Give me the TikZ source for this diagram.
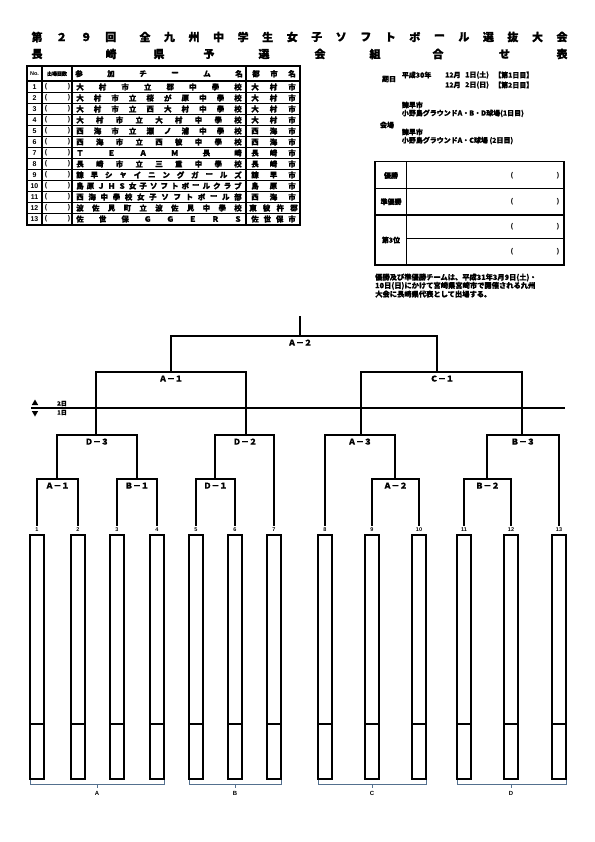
\documentclass[tikz,border=0pt]{standalone}
\usepackage{fontspec}
\setmainfont{Liberation Sans}
\newfontfamily\jp{Noto Sans CJK JP}[FakeBold=0.8]
\newfontfamily\jpx{Noto Sans CJK JP}[FakeBold=1.2]
\usetikzlibrary{calc}
\newcommand\spreadrow[5]{%
  \gdef\tmpn{0}%
  \foreach \c in {#5}{\xdef\tmpn{\the\numexpr\tmpn+1\relax}}%
  \foreach \c [count=\i from 0] in {#5}{%
    \node[tt] (#1-\i) at ({#3+(#4-#3)*\i/(\tmpn-1)},#2) {\c};}}
\newcommand\mt[6]{%
  \coordinate (#1-l) at (#2,#4); \coordinate (#1-r) at (#3,#4);
  \draw[br] (#1-l) -- (#1-r);
  \node[rl] (#1-t) at (#5,#4+6.6) {#6};}
\definecolor{brc}{RGB}{84,112,142}
\begin{document}
\begin{tikzpicture}[x=1bp,y=-1bp,
  br/.style={line width=2bp, line cap=rect},
  rl/.style={font=\jp\bfseries\fontsize{8}{8}\selectfont, inner sep=0pt},
  ttl/.style={font=\jpx\bfseries\fontsize{11}{11}\selectfont, inner sep=0pt},
  tt/.style={font=\jpx\bfseries\fontsize{7.5}{7.5}\selectfont, inner sep=0pt},
  it/.style={font=\jp\bfseries\fontsize{7}{7}\selectfont, inner sep=0pt},
  nt/.style={font=\jp\bfseries\fontsize{7.3}{7.3}\selectfont, inner sep=0pt, anchor=west},
  num/.style={font=\bfseries\fontsize{7}{7}\selectfont, inner sep=0pt},
  tnum/.style={font=\bfseries\fontsize{5.5}{5.5}\selectfont, inner sep=0pt},
  tk/.style={line width=2bp},
  tn/.style={line width=1bp},
  rb/.style={line width=1.5bp},
  bx/.style={draw, line width=2bp, minimum width=14bp, minimum height=244bp, inner sep=0pt},
  brace/.style={draw=brc, line width=1bp},
  day/.style={line width=1.6bp}
]
\useasboundingbox (0,0) rectangle (595,842);
\fill[white] (0,0) rectangle (595,842);

% ---------- title ----------
\foreach \c/\x [count=\i] in {第/37,２/61.6,９/86.2,回/110.8,全/145,九/169.5,州/194.1,中/218.6,学/243.1,生/267.7,女/292.2,子/316.7,ソ/341.2,フ/365.8,ト/390.3,ボ/414.8,ー/439.4,ル/463.9,選/488.4,抜/512.9,大/537.5,会/562}
  {\node[ttl] (ta-\i) at (\x,37) {\c};}
\foreach \c/\x [count=\i] in {長/37,崎/111,県/159,予/209,選/264,会/320,組/375,合/438,せ/504.5,表/562}
  {\node[ttl] (tb-\i) at (\x,54) {\c};}

% ---------- entry table ----------
\draw[tk] (27,66) rectangle (300,224.5);
\draw[tk] (27,81) -- (300,81);
\foreach \k in {1,...,12}{\draw[tn] (27,81.5+11*\k) -- (300,81.5+11*\k);}
\foreach \x in {42,72,246}{\draw[tk] (\x,66) -- (\x,224.5);}
\node[font=\bfseries\fontsize{5.5}{5.5}\selectfont, inner sep=0pt] (hno) at (34.5,73.7) {No.};
\node[font=\jp\bfseries\fontsize{5}{5}\selectfont, inner sep=0pt] (hcnt) at (57,73.7) {出場回数};
\spreadrow{hn}{73.7}{79}{239}{参,加,チ,ー,ム,名}
\spreadrow{hc}{73.7}{256}{292}{都,市,名}
\foreach \k in {1,...,13}{
  \node[num] (no-\k) at (34.5,{81.5+11*\k-5.5}) {\k};
  \node[num] (lp-\k) at (46,{81.5+11*\k-5.5}) {(};
  \node[num] (rp-\k) at (69,{81.5+11*\k-5.5}) {)};
}
\spreadrow{r1}{87}{80}{238}{大,村,市,立,郡,中,學,校}
\spreadrow{r2}{98}{80}{238}{大,村,市,立,桜,が,原,中,學,校}
\spreadrow{r3}{109}{80}{238}{大,村,市,立,西,大,村,中,學,校}
\spreadrow{r4}{120}{80}{238}{大,村,市,立,大,村,中,學,校}
\spreadrow{r5}{131}{80}{238}{西,海,市,立,瀬,ノ,浦,中,學,校}
\spreadrow{r6}{142}{80}{238}{西,海,市,立,西,彼,中,學,校}
\spreadrow{r7}{153}{80}{238}{Ｔ,Ｅ,Ａ,Ｍ,長,崎}
\spreadrow{r8}{164}{80}{238}{長,崎,市,立,三,重,中,學,校}
\spreadrow{r9}{175}{80}{238}{諫,早,シ,ャ,イ,ニ,ン,グ,ガ,ー,ル,ズ}
\spreadrow{r10}{186}{80}{238}{島,原,Ｊ,Ｈ,Ｓ,女,子,ソ,フ,ト,ボ,ー,ル,ク,ラ,ブ}
\spreadrow{r11}{197}{80}{238}{西,海,中,學,校,女,子,ソ,フ,ト,ボ,ー,ル,部}
\spreadrow{r12}{208}{80}{238}{波,佐,見,町,立,波,佐,見,中,學,校}
\spreadrow{r13}{219}{80}{238}{佐,世,保,Ｇ,Ｇ,Ｅ,Ｒ,Ｓ}
\spreadrow{c1}{87}{255}{292}{大,村,市}
\spreadrow{c2}{98}{255}{292}{大,村,市}
\spreadrow{c3}{109}{255}{292}{大,村,市}
\spreadrow{c4}{120}{255}{292}{大,村,市}
\spreadrow{c5}{131}{255}{292}{西,海,市}
\spreadrow{c6}{142}{255}{292}{西,海,市}
\spreadrow{c7}{153}{255}{292}{長,崎,市}
\spreadrow{c8}{164}{255}{292}{長,崎,市}
\spreadrow{c9}{175}{255}{292}{諫,早,市}
\spreadrow{c10}{186}{255}{292}{島,原,市}
\spreadrow{c11}{197}{255}{292}{西,海,市}
\spreadrow{c12}{208}{253}{294}{東,彼,杵,郡}
\spreadrow{c13}{219}{255}{292}{佐,世,保,市}

% ---------- date / venue ----------
\node[it] (kj) at (389,79) {期日};
\node[it,anchor=west] (d1a) at (401.7,75) {平成30年};
\node[it,anchor=west] (d1b) at (445,75) {12月};
\node[it,anchor=west] (d1c) at (465,75) {1日(土)};
\node[it,anchor=west] (d1d) at (494,75) {【第1日目】};
\node[it,anchor=west] (d2b) at (445,85) {12月};
\node[it,anchor=west] (d2c) at (465,85) {2日(日)};
\node[it,anchor=west] (d2d) at (494,85) {【第2日目】};
\node[it] (kj2) at (387,125) {会場};
\node[it,anchor=west] (v1a) at (401.7,105) {諫早市};
\node[it,anchor=west] (v1b) at (401.7,113.3) {小野島グラウンドA・B・D球場(1日目)};
\node[it,anchor=west] (v2a) at (401.7,132) {諫早市};
\node[it,anchor=west] (v2b) at (401.7,140.5) {小野島グラウンドA・C球場 (2日目)};

% ---------- results box ----------
\draw[rb] (375,161.7) rectangle (564,265);
\draw[rb] (406.7,161.7) -- (406.7,265);
\draw[rb] (375,188.3) -- (564,188.3);
\draw[rb] (375,215) -- (564,215);
\draw[rb] (406.7,238.3) -- (564,238.3);
\node[it] (w1) at (391,175.5) {優勝};
\node[it] (w2) at (391,201.7) {準優勝};
\node[it] (w3) at (391,240) {第3位};
\foreach \y [count=\i] in {175.5,201.7,226.7,251.5}{
  \node[num] (ol-\i) at (512,\y) {(};
  \node[num] (or-\i) at (558,\y) {)};
}
\node[nt] (n1) at (375,277.5) {優勝及び準優勝チームは、平成31年3月9日(土)・};
\node[nt] (n2) at (375,285.8) {10日(日)にかけて宮崎県宮崎市で開催される九州};
\node[nt] (n3) at (375,294.1) {大会に長崎県代表として出場する。};

% ---------- day line ----------
\coordinate (dl) at (31,408); \coordinate (dr) at (565,408);
\draw[day] (dl) -- (dr);
\fill (35,399.5) -- (31.8,405) -- (38.2,405) -- cycle;
\fill (35,416.5) -- (31.8,411) -- (38.2,411) -- cycle;
\node[font=\jp\bfseries\fontsize{6}{6}\selectfont, inner sep=0pt] (d2lab) at (62,403.5) {2日};
\node[font=\jp\bfseries\fontsize{6}{6}\selectfont, inner sep=0pt] (d1lab) at (62,412.5) {1日};

% ---------- teams ----------
\foreach \x [count=\i] in {37,78,117,157,196,235,274,325,372,419,464,511,559}{
  \coordinate (T\i) at (\x,525);
  \node[tnum] (tn-\i) at (\x,529.5) {\i};
  \node[bx] (B\i) at (\x,657) {};
  \draw[line width=2bp] (\x-7,724) -- (\x+7,724);
}

% ---------- bracket ----------
% round 1
\mt{mA1}{37}{78}{479}{57.5}{Ａ－１}
\mt{mB1}{117}{157}{479}{137}{Ｂ－１}
\mt{mD1}{196}{235}{479}{215.5}{Ｄ－１}
\mt{mA2}{372}{419}{479}{395.5}{Ａ－２}
\mt{mB2}{464}{511}{479}{487.5}{Ｂ－２}
\foreach \m/\a/\b in {mA1/1/2,mB1/3/4,mD1/5/6,mA2/9/10,mB2/11/12}{
  \draw[br] (\m-l) -- (T\a);
  \draw[br] (\m-r) -- (T\b);
}
% round 2
\mt{mD3}{57}{137}{435}{97}{Ｄ－３}
\mt{mD2}{215}{274}{435}{245}{Ｄ－２}
\mt{mA3}{325}{395}{435}{360}{Ａ－３}
\mt{mB3}{487}{559}{435}{523}{Ｂ－３}
\draw[br] (mD3-l) -- (mD3-l |- mA1-l);
\draw[br] (mD3-r) -- (mD3-r |- mB1-l);
\draw[br] (mD2-l) -- (mD2-l |- mD1-l);
\draw[br] (mD2-r) -- (T7);
\draw[br] (mA3-l) -- (T8);
\draw[br] (mA3-r) -- (mA3-r |- mA2-l);
\draw[br] (mB3-l) -- (mB3-l |- mB2-l);
\draw[br] (mB3-r) -- (T13);
% round 3
\mt{mA1t}{96}{246}{372}{171}{Ａ－１}
\mt{mC1}{361}{522}{372}{442}{Ｃ－１}
\draw[br] (mA1t-l) -- (mA1t-l |- mD3-l);
\draw[br] (mA1t-r) -- (mA1t-r |- mD2-l);
\draw[br] (mC1-l) -- (mC1-l |- mA3-l);
\draw[br] (mC1-r) -- (mC1-r |- mB3-l);
% final
\mt{mF}{171}{437}{336}{300}{Ａ－２}
\draw[br] (mF-l) -- (mF-l |- mA1t-l);
\draw[br] (mF-r) -- (mF-r |- mC1-l);
\coordinate (top) at (300,317);
\draw[br] (top) -- (top |- mF-l);

% ---------- group braces ----------
\foreach \l/\r/\m/\g in {30/164/97/A,189/281/235/B,318/426/372/C,457/566/511/D}{
  \draw[brace] (\l,780) -- (\l,784) -- (\r,784) -- (\r,780);
  \draw[brace] (\m,784) -- (\m,788);
  \node[font=\bfseries\fontsize{6}{6}\selectfont, inner sep=0pt] (g\g) at (\m,793.5) {\g};
}
\end{tikzpicture}
\end{document}
